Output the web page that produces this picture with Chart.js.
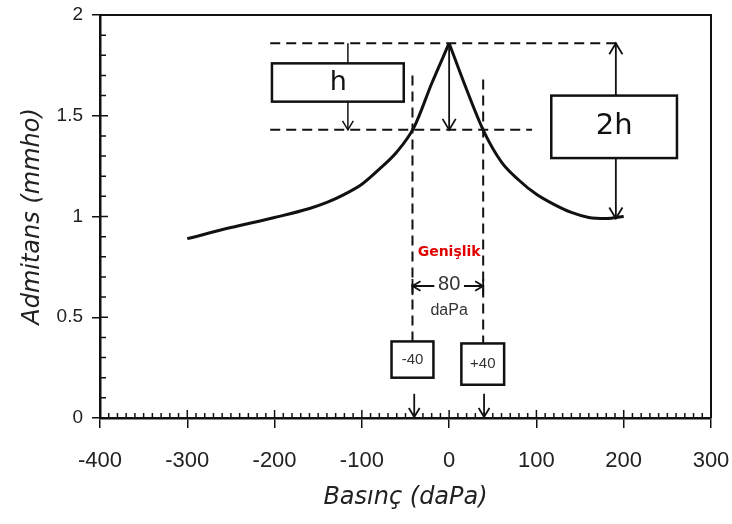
<!DOCTYPE html>
<html>
<head>
<meta charset="utf-8">
<script src="https://cdn.jsdelivr.net/npm/chart.js@4"></script>
<style>
  body { margin: 0; background: #fff; }
  #wrap { width: 732px; height: 524px; }
</style>
</head>
<body>
<div id="wrap"><canvas id="tympChart" width="732" height="524"></canvas></div>
<script>
// pressure (daPa) and admittance (mmho)
const pressure   = [-300, -250, -200, -160, -140, -120, -100, -80, -60, -40, -20, 0, 20, 40, 60, 80, 100, 120, 140, 160, 180, 200];
const admittance = [0.89, 0.945, 0.995, 1.04, 1.07, 1.11, 1.16, 1.235, 1.32, 1.445, 1.66, 1.86, 1.63, 1.42, 1.27, 1.18, 1.11, 1.06, 1.02, 0.995, 0.99, 1.00];

const xTicks = [-400, -300, -200, -100, 0, 100, 200, 300];
const yTicks = [0, 0.5, 1, 1.5, 2];

// annotation values
const peak = 1.86;
const halfLevel = 1.43;
const baseLevel = 0.99;
const widthEdges = [-42, 39];

const INK = '#111';

const annotate = {
  id: 'annotate',
  afterDraw(chart) {
    const c = chart.ctx;
    const xs = chart.scales.x, ys = chart.scales.y;
    const px = v => xs.getPixelForValue(v);
    const py = v => ys.getPixelForValue(v);
    const a = chart.chartArea;

    c.save();
    c.strokeStyle = INK;
    c.fillStyle = INK;

    // frame top + right
    c.lineWidth = 2;
    c.beginPath();
    c.moveTo(a.left, a.top); c.lineTo(a.right, a.top); c.lineTo(a.right, a.bottom);
    c.stroke();

    // inner ticks (minor + major)
    c.lineWidth = 1.5;
    c.beginPath();
    for (let v = -400; v <= 300; v += 10) {
      const major = v % 100 === 0;
      c.moveTo(px(v), a.bottom); c.lineTo(px(v), a.bottom - (major ? 8 : 5));
    }
    for (let i = 0; i <= 20; i++) {
      const v = i / 10;
      const major = i % 5 === 0;
      c.moveTo(a.left, py(v)); c.lineTo(a.left + (major ? 8 : 6), py(v));
    }
    c.stroke();

    // dashed guide lines
    c.lineWidth = 2;
    c.setLineDash([10, 6]);
    c.beginPath();
    c.moveTo(px(-205), py(peak)); c.lineTo(px(195), py(peak));
    c.moveTo(px(-205), py(halfLevel)); c.lineTo(px(95), py(halfLevel));
    c.moveTo(px(widthEdges[0]), py(1.70)); c.lineTo(px(widthEdges[0]), py(0.38));
    c.moveTo(px(widthEdges[1]), py(1.68)); c.lineTo(px(widthEdges[1]), py(0.37));
    c.stroke();
    c.setLineDash([]);

    function arrowHead(x, y, dir, size) {
      // dir: 1 = pointing down, -1 = up, 2 = right, -2 = left
      c.beginPath();
      if (Math.abs(dir) === 1) {
        c.moveTo(x - size * 0.6, y - dir * size); c.lineTo(x, y); c.lineTo(x + size * 0.6, y - dir * size);
      } else {
        const d = dir / 2;
        c.moveTo(x - d * size, y - size * 0.6); c.lineTo(x, y); c.lineTo(x - d * size, y + size * 0.6);
      }
      c.stroke();
    }
    function vLine(x, y1, y2) {
      c.beginPath(); c.moveTo(x, y1); c.lineTo(x, y2); c.stroke();
    }
    function box(x1, y1, x2, y2, lw) {
      c.lineWidth = lw;
      c.fillStyle = '#fff';
      c.fillRect(px(x1), py(y1), px(x2) - px(x1), py(y2) - py(y1));
      c.strokeRect(px(x1), py(y1), px(x2) - px(x1), py(y2) - py(y1));
    }

    // h box and arrows
    c.lineWidth = 1.5;
    vLine(px(-116), py(peak), py(1.76));
    vLine(px(-116), py(1.57), py(halfLevel));
    arrowHead(px(-116), py(halfLevel), 1, 9);
    box(-203, 1.76, -52, 1.57, 2.5);

    // center arrow peak -> half
    c.lineWidth = 1.8;
    vLine(px(0), py(peak), py(halfLevel));
    arrowHead(px(0), py(halfLevel), 1, 11);

    // 2h box and arrows
    c.lineWidth = 1.8;
    vLine(px(191), py(peak), py(1.60));
    arrowHead(px(191), py(peak), -1, 11);
    vLine(px(191), py(1.29), py(baseLevel));
    arrowHead(px(191), py(baseLevel), 1, 11);
    box(117, 1.60, 261, 1.29, 2.5);

    // 80 daPa width marker
    c.lineWidth = 1.8;
    vLine(px(widthEdges[0]), py(0.69), py(0.61));
    vLine(px(widthEdges[1]), py(0.69), py(0.61));
    c.beginPath();
    c.moveTo(px(widthEdges[0]), py(0.655)); c.lineTo(px(-17), py(0.655));
    c.moveTo(px(17), py(0.655)); c.lineTo(px(widthEdges[1]), py(0.655));
    c.stroke();
    arrowHead(px(widthEdges[0]), py(0.655), -2, 8);
    arrowHead(px(widthEdges[1]), py(0.655), 2, 8);

    // -40 / +40 boxes
    box(-66, 0.38, -18, 0.20, 2.5);
    box(14, 0.37, 63, 0.165, 2.5);
    c.lineWidth = 1.8;
    vLine(px(-40), py(0.12), py(0.005));
    arrowHead(px(-40), py(0.005), 1, 9);
    vLine(px(40), py(0.12), py(0.005));
    arrowHead(px(40), py(0.005), 1, 9);

    // texts
    c.textAlign = 'center';
    c.textBaseline = 'middle';
    c.fillStyle = INK;
    c.font = '27px "DejaVu Sans"';
    c.fillText('h', px(-127), py(1.665));
    c.font = '29px "DejaVu Sans"';
    c.fillText('2h', px(189), py(1.445));
    c.fillStyle = '#e00000';
    c.font = 'bold 14px "DejaVu Sans"';
    c.fillText('Genişlik', px(0), py(0.82));
    c.fillStyle = '#333';
    c.font = '20px "Liberation Sans"';
    c.fillText('80', px(0), py(0.665));
    c.font = '16px "Liberation Sans"';
    c.fillText('daPa', px(0), py(0.535));
    c.font = '15px "Liberation Sans"';
    c.fillText('-40', px(-42), py(0.29));
    c.fillText('+40', px(38.5), py(0.27));
    c.restore();
  }
};

// split at the peak so the top stays pointed
const peakIdx = admittance.indexOf(Math.max(...admittance));
const points = pressure.map((p, i) => ({ x: p, y: admittance[i] }));
const curveStyle = { borderColor: INK, borderWidth: 3, pointRadius: 0, cubicInterpolationMode: 'monotone', fill: false };

new Chart(document.getElementById('tympChart'), {
  type: 'line',
  data: {
    datasets: [
      Object.assign({ data: points.slice(0, peakIdx + 1) }, curveStyle),
      Object.assign({ data: points.slice(peakIdx) }, curveStyle)
    ]
  },
  plugins: [annotate],
  options: {
    responsive: false,
    animation: false,
    layout: { padding: { top: 15, right: 21, left: 0, bottom: 0 } },
    plugins: { legend: { display: false }, tooltip: { enabled: false } },
    scales: {
      x: {
        type: 'linear',
        min: -400, max: 300,
        afterBuildTicks: s => { s.ticks = xTicks.map(v => ({ value: v })); },
        afterFit: s => { s.height = 106; s.paddingLeft = 0; s.paddingRight = 0; },
        ticks: { color: '#222', font: { family: 'Liberation Sans', size: 22 }, padding: 20, maxRotation: 0 },
        grid: { drawOnChartArea: false, tickLength: 10, color: INK, lineWidth: 1.5 },
        border: { color: INK, width: 2.5 },
        title: {
          display: true, text: 'Basınç (daPa)', color: '#222',
          font: { family: 'DejaVu Sans', size: 24, style: 'italic' }, padding: { top: 0, bottom: 12 }
        }
      },
      y: {
        min: 0, max: 2,
        afterBuildTicks: s => { s.ticks = yTicks.map(v => ({ value: v })); },
        afterFit: s => { s.width = 100; s.paddingTop = 0; s.paddingBottom = 0; },
        ticks: { color: '#222', font: { family: 'Liberation Sans', size: 19 }, padding: 9, callback: v => String(v) },
        grid: { drawOnChartArea: false, tickLength: 8, color: INK, lineWidth: 1.5 },
        border: { color: INK, width: 2.5 },
        title: {
          display: true, text: 'Admitans (mmho)', color: '#222',
          font: { family: 'DejaVu Sans', size: 24, style: 'italic' }, padding: { bottom: 0, top: 18 }
        }
      }
    }
  }
});
</script>
</body>
</html>
